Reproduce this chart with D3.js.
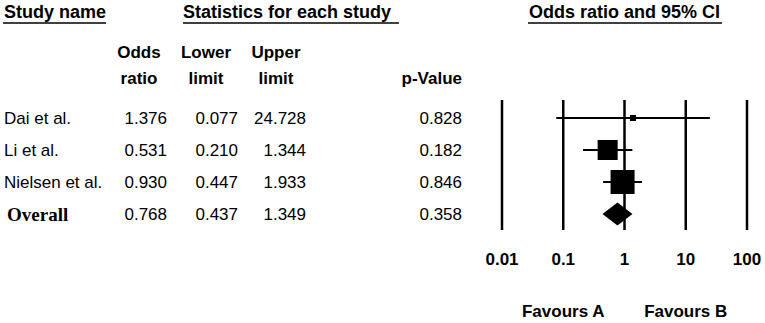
<!DOCTYPE html>
<html lang="en">
<head>
<meta charset="UTF-8">
<title>Forest plot</title>
<script src="https://d3js.org/d3.v7.min.js"></script>
<style>
  body { margin: 0; background: #fff; }
  text { font-family: "Liberation Sans", Arial, sans-serif; fill: #000; }
  .hdr { font-weight: bold; font-size: 18px; }
  .col { font-weight: bold; font-size: 17px; }
  .cell { font-size: 17px; }
  .overall { font-family: "Liberation Serif", "Times New Roman", serif; font-weight: bold; font-size: 19px; }
</style>
</head>
<body>
<script>
// values
const studyNames = ['Dai et al.', 'Li et al.', 'Nielsen et al.', 'Overall']
const oddsRatios = [1.376, 0.531, 0.930, 0.768]
const lowerLimits = [0.077, 0.210, 0.447, 0.437]
const upperLimits = [24.728, 1.344, 1.933, 1.349]
const pValues = [0.828, 0.182, 0.846, 0.358]
const weights = [3.6, 39.7, 57.1]   // relative study weights (box area)
const tickValues = [0.01, 0.1, 1, 10, 100]
const tickLabels = ['0.01', '0.1', '1', '10', '100']

const width = 765, height = 323

const svg = d3.select('body').append('svg')
  .attr('width', width)
  .attr('height', height)

const x = d3.scaleLog().domain([0.01, 100]).range([502, 747])
const y = d3.scalePoint().domain(studyNames).range([118, 214])
const box = d3.scaleSqrt().domain([0, d3.max(weights)]).range([0, 24])

// section headings with underline
const headings = [
  { text: 'Study name', x: 4, x1: 3, x2: 106 },
  { text: 'Statistics for each study', x: 183, x1: 183, x2: 399 },
  { text: 'Odds ratio and 95% CI', x: 529, x1: 528, x2: 722 }
]
headings.forEach(h => {
  svg.append('text').attr('class', 'hdr').attr('x', h.x).attr('y', 18).text(h.text)
  svg.append('line')
    .attr('x1', h.x1).attr('x2', h.x2)
    .attr('y1', 23).attr('y2', 23)
    .attr('stroke', '#000').attr('stroke-width', 1.5)
})

// column headings
const cols = [
  { l1: 'Odds', l2: 'ratio', x: 139 },
  { l1: 'Lower', l2: 'limit', x: 206 },
  { l1: 'Upper', l2: 'limit', x: 276 }
]
cols.forEach(c => {
  svg.append('text').attr('class', 'col').attr('x', c.x).attr('y', 58)
    .attr('text-anchor', 'middle').text(c.l1)
  svg.append('text').attr('class', 'col').attr('x', c.x).attr('y', 84)
    .attr('text-anchor', 'middle').text(c.l2)
})
svg.append('text').attr('class', 'col').attr('x', 462).attr('y', 84)
  .attr('text-anchor', 'end').text('p-Value')

// table rows
const fmt = d3.format('.3f')
const rows = svg.append('g')
studyNames.forEach((name, i) => {
  const base = y(name) + 6
  const last = i === studyNames.length - 1
  rows.append('text')
    .attr('class', last ? 'overall' : 'cell')
    .attr('x', last ? 7 : 4).attr('y', last ? base + 1 : base)
    .text(name)
  const vals = [oddsRatios[i], lowerLimits[i], upperLimits[i], pValues[i]]
  const rights = [167, 238, 306, 462]
  vals.forEach((v, j) => {
    rows.append('text').attr('class', 'cell')
      .attr('x', rights[j]).attr('y', base)
      .attr('text-anchor', 'end').text(fmt(v))
  })
})

// grid lines at each decade
const plot = svg.append('g')
plot.selectAll('line.grid')
  .data(tickValues)
  .enter().append('line')
  .attr('class', 'grid')
  .attr('x1', d => x(d)).attr('x2', d => x(d))
  .attr('y1', 100).attr('y2', 230)
  .attr('stroke', '#000').attr('stroke-width', 2.5)

plot.selectAll('text.tick')
  .data(tickValues)
  .enter().append('text')
  .attr('class', 'col')
  .attr('x', d => x(d)).attr('y', 265)
  .attr('text-anchor', 'middle')
  .text((d, i) => tickLabels[i])

// study CIs and boxes
const studies = studyNames.slice(0, -1)
plot.selectAll('line.ci')
  .data(studies)
  .enter().append('line')
  .attr('x1', (d, i) => x(lowerLimits[i]))
  .attr('x2', (d, i) => x(upperLimits[i]))
  .attr('y1', d => y(d)).attr('y2', d => y(d))
  .attr('stroke', '#000').attr('stroke-width', 2)

plot.selectAll('rect.box')
  .data(studies)
  .enter().append('rect')
  .attr('x', (d, i) => x(oddsRatios[i]) - box(weights[i]) / 2)
  .attr('y', (d, i) => y(d) - box(weights[i]) / 2)
  .attr('width', (d, i) => box(weights[i]))
  .attr('height', (d, i) => box(weights[i]))
  .attr('fill', '#000')

// overall diamond
const k = studyNames.length - 1
const cy = y(studyNames[k])
plot.append('path')
  .attr('d', d3.line()([
    [x(lowerLimits[k]), cy],
    [x(oddsRatios[k]), cy - 11.5],
    [x(upperLimits[k]), cy],
    [x(oddsRatios[k]), cy + 11.5]
  ]) + 'Z')
  .attr('fill', '#000')

// favours labels
svg.append('text').attr('class', 'col').attr('x', x(0.1)).attr('y', 317)
  .attr('text-anchor', 'middle').text('Favours A')
svg.append('text').attr('class', 'col').attr('x', x(10)).attr('y', 317)
  .attr('text-anchor', 'middle').text('Favours B')
</script>
</body>
</html>
